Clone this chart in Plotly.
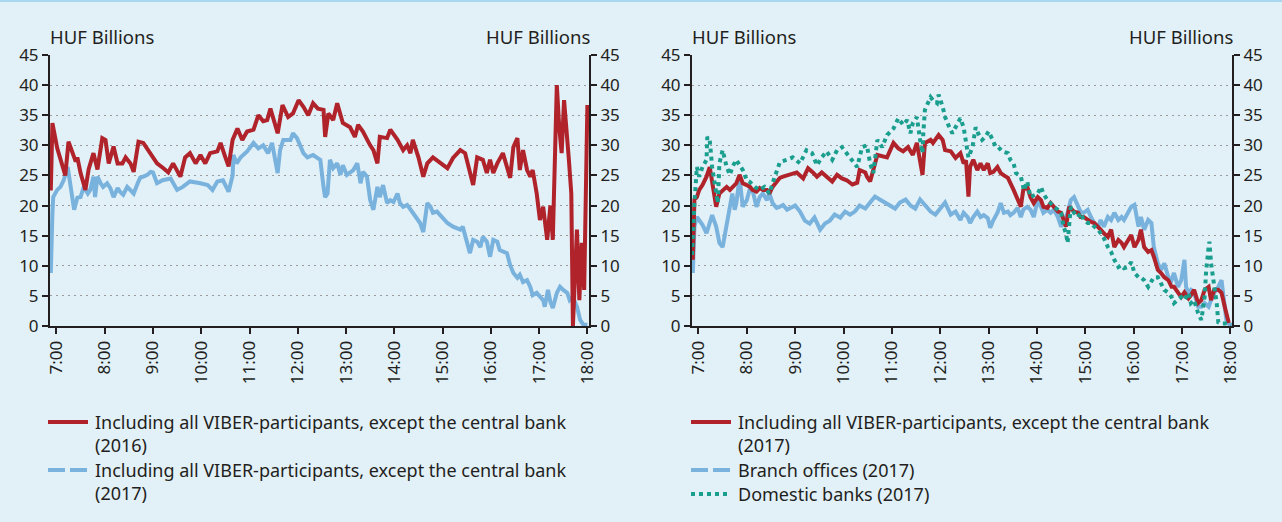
import plotly.graph_objects as go

# ---- time axis: minutes after 07:00 ----
TICK_MIN = [0, 60, 120, 180, 240, 300, 360, 420, 480, 540, 600, 660]
TICK_TXT = ["7:00", "8:00", "9:00", "10:00", "11:00", "12:00", "13:00",
            "14:00", "15:00", "16:00", "17:00", "18:00"]
Y_TICKS = [0, 5, 10, 15, 20, 25, 30, 35, 40, 45]

# ---- left panel: all VIBER participants except the central bank, 2016 ----
all16_t = [-7, -5, 1, 7, 11, 15, 20, 24, 26, 30, 36, 40, 46, 51, 57, 61, 65, 71, 76, 82,
           86, 92, 96, 102, 108, 117, 125, 133, 139, 145, 154, 160, 166, 173, 179, 185,
           191, 200, 204, 210, 214, 219, 225, 231, 237, 245, 251, 257, 262, 266, 270,
           275, 281, 288, 294, 301, 307, 313, 319, 325, 332, 334, 338, 344, 349, 356,
           365, 371, 375, 381, 390, 394, 399, 402, 411, 415, 424, 431, 436, 440, 443,
           450, 456, 461, 468, 477, 486, 493, 502, 508, 514, 518, 523, 530, 535, 539,
           543, 548, 555, 560, 564, 568, 573, 576, 580, 585, 589, 592, 597, 601, 605,
           610, 614, 617, 620, 622, 625, 628, 631, 635, 637, 640, 642, 647, 650, 653,
           656, 660]
all16_v = [22.5, 33.7, 29.5, 27, 25, 30.6, 28.7, 27.3, 28, 25.4, 22.6, 26, 28.7, 26, 31.2,
           30.9, 27, 29.8, 27, 27, 28, 27, 25.6, 30.6, 30.4, 28.7, 27, 26.2, 25.5, 27,
           24.8, 28, 28.7, 27, 28.4, 27, 28.7, 29, 30.4, 28, 26.5, 30.9, 32.8, 30.9, 32.3,
           32.6, 35, 34, 34.2, 36.1, 34.2, 32, 36.7, 34.7, 35.3, 37.5, 36.4, 35, 37, 36.1,
           35.9, 31.4, 35.3, 34.2, 37, 33.7, 33, 31.4, 33.4, 32.3, 30, 29.2, 27, 31.4,
           31.2, 32.6, 30.9, 29.2, 30, 28.7, 30.9, 28, 24.8, 27, 28, 27.2, 26.2, 27.9,
           29.2, 28.7, 25.4, 23.4, 28, 27.6, 25.4, 27.6, 25.4, 27, 28.7, 26.4, 24.6, 29.7,
           31.2, 25.9, 29.2, 25.9, 24.8, 25.9, 22, 17.6, 19.8, 14.3, 20, 14.3, 29, 40, 33,
           28.7, 37.5, 29.2, 27.6, 22, 0, 16, 4.3, 13.8, 6, 36.7]

# ---- left panel: all VIBER participants except the central bank, 2017 ----
all17a_t = [-7, -6, -5, -4, 1, 5, 9, 14, 17, 22, 26, 30, 34, 39, 42, 46, 48, 51, 55, 58,
            63, 67, 71, 76, 79, 83, 88, 92, 96, 101, 104, 108, 113, 117, 120, 125, 132,
            142, 150, 157, 166, 179, 188, 194, 200, 207, 214, 219, 220, 224, 229, 237,
            245, 251, 257, 263, 268, 275, 278, 282, 291, 294, 299, 307, 312, 319, 324,
            328, 332, 334, 337, 340, 344, 349, 353, 356, 361, 369, 374, 378, 381, 386,
            390, 394, 399, 402, 406, 411, 415, 419, 424, 427, 431, 436, 443, 452, 456,
            461, 465, 468, 473, 481, 486, 493, 502, 505, 510, 514, 518, 523, 527, 530,
            535, 539, 543, 548, 551, 555, 560, 564, 568, 573, 576, 580, 585, 589, 592,
            597, 601, 605, 607, 611, 614, 617, 622, 626, 630, 635, 638, 642, 647, 651,
            655, 660]
all17a_v = [8.8, 17.6, 18.8, 21.4, 22.6, 23.1, 24.2, 26.4, 23.7, 19.3, 21.3, 21.4, 23.1,
            22, 22.6, 24.8, 21.4, 24.8, 23.7, 23.1, 23.7, 22.9, 21.4, 22.9, 22.3, 21.8,
            23.1, 22.6, 22, 23.7, 24.6, 24.8, 25.1, 25.6, 25.5, 23.7, 24.2, 24.5, 22.6,
            23.1, 24, 23.7, 23.4, 22.6, 24, 24.2, 22.3, 25, 28.4, 27, 28, 29, 30.4, 29.5,
            30, 28.7, 30.4, 25.4, 29.2, 30.9, 30.9, 32, 31.2, 28.7, 28, 28.4, 28, 27.6,
            23.1, 21.4, 22, 27.6, 26.2, 27, 25.1, 26.7, 25.1, 25.9, 27, 23.7, 25.6, 24.8,
            20.9, 19.3, 23.1, 21.4, 23.4, 20.4, 20.9, 20.6, 22, 20.4, 19.8, 20.1, 18.8,
            17.1, 15.6, 20.4, 19.8, 18.8, 19, 17.9, 17.1, 16.5, 16, 16.5, 14.3, 12.1, 14.3,
            14, 13.1, 14.8, 14, 11.5, 14.3, 14, 12.6, 12.3, 12.1, 10.1, 8.8, 8, 8.5, 7.3,
            7.6, 6.5, 5.1, 5.5, 4.8, 4.3, 3.2, 6, 4, 3, 5.5, 6.5, 6, 5.5, 4.3, 4.8, 3.2,
            1, 0.2, 0.2]

# ---- right panel: all VIBER participants except the central bank, 2017 ----
all17b_t = [-7, -5, -2, 1, 5, 10, 14, 17, 22, 26, 30, 35, 39, 42, 47, 51, 55, 60, 64, 67,
            72, 76, 80, 85, 88, 92, 97, 101, 105, 113, 122, 130, 136, 142, 147, 153, 159,
            166, 172, 178, 184, 191, 197, 200, 207, 209, 213, 217, 222, 234, 242, 248,
            254, 260, 266, 271, 275, 278, 281, 288, 291, 298, 303, 306, 313, 319, 325,
            329, 332, 335, 337, 341, 346, 350, 354, 359, 362, 366, 371, 375, 379, 384,
            391, 396, 400, 403, 408, 412, 416, 421, 425, 428, 433, 437, 441, 446, 450,
            453, 456, 460, 466, 471, 474, 478, 483, 487, 491, 496, 499, 503, 508, 512,
            516, 521, 525, 528, 533, 537, 541, 546, 549, 553, 558, 562, 565, 570, 574,
            578, 583, 587, 590, 595, 599, 603, 608, 611, 615, 620, 624, 628, 633, 636,
            640, 645, 649, 653, 658]
all17b_v = [11, 21, 21.4, 22.6, 23.4, 24.8, 26.4, 23.7, 19.8, 22, 22.6, 23.1, 22.6, 23.1,
            23.7, 25.1, 23.7, 23.4, 23.1, 22.6, 22.3, 22.9, 22.6, 22.6, 22, 23.1, 23.9,
            24.6, 24.8, 25.1, 25.5, 24.5, 26.2, 25.5, 24.8, 25.5, 24.8, 24, 25.1, 24.5,
            24.2, 23.5, 23.8, 25.9, 25.5, 24.8, 24, 25.9, 28.4, 28, 30.4, 29.5, 29, 29.7,
            28.4, 30.4, 27.2, 25.1, 30.4, 30.9, 30.4, 31.7, 30.9, 29.2, 29, 27.9, 28.7,
            27, 27.5, 21.5, 26.4, 27.6, 25.9, 27, 25.9, 27, 25.4, 25.6, 26.4, 25.4, 25,
            24.6, 22.6, 20.9, 19.8, 22.6, 23.1, 21.4, 20.4, 21.4, 20.9, 19.8, 19.6, 20.4,
            19.8, 19, 18.8, 17.6, 16.5, 19.8, 19, 18.8, 18.1, 18.1, 17.6, 17.3, 17.1,
            16.5, 16, 15.4, 14.8, 16, 13.1, 14.3, 13.8, 13.1, 14.3, 15.1, 13.1, 14.3, 16,
            13.1, 12.3, 12.6, 11.5, 9.3, 8.8, 8.1, 7.6, 6.5, 6.5, 5.5, 4.8, 5.6, 4.6, 5.1,
            6, 3.8, 4.3, 6, 6.5, 4.3, 6, 6, 5.5, 3.2, 0.5]

# ---- right panel: branch offices, 2017 ----
branch_t = [-7, -5, -2, 1, 5, 10, 14, 17, 22, 26, 30, 35, 39, 42, 45, 47, 51, 55, 60, 64,
            67, 72, 76, 80, 85, 88, 92, 97, 101, 105, 110, 120, 126, 132, 138, 144, 151,
            157, 163, 169, 176, 182, 188, 194, 200, 207, 213, 219, 225, 232, 238, 244,
            250, 257, 263, 269, 275, 281, 288, 294, 300, 306, 313, 319, 325, 329, 334,
            337, 341, 346, 350, 354, 359, 362, 366, 371, 375, 379, 384, 387, 391, 396,
            400, 403, 408, 412, 416, 421, 425, 428, 433, 437, 441, 446, 450, 453, 458,
            462, 466, 471, 474, 478, 483, 487, 491, 496, 499, 503, 508, 512, 516, 521,
            525, 528, 533, 537, 541, 546, 549, 553, 558, 562, 565, 570, 574, 578, 583,
            587, 590, 595, 599, 603, 605, 608, 611, 615, 620, 624, 628, 633, 636, 640,
            645, 649, 653, 655, 659, 662]
branch_v = [8.8, 16.5, 18.1, 17.6, 16.8, 15.4, 17.3, 18.4, 16.5, 13.8, 13.1, 16.5, 19.8,
            22, 19.3, 20.4, 24.6, 19.8, 20.9, 22.9, 22.6, 19.8, 21.4, 22, 20.9, 22, 20.4,
            19.6, 19.8, 20.1, 19.3, 20, 19, 17.5, 17, 18, 16, 17, 17.5, 18.5, 18, 19,
            18.5, 19, 20, 19.5, 20.5, 21.5, 21, 20.5, 20, 19.5, 20.5, 21, 20, 19.5, 21,
            20, 19, 18.5, 19.5, 20.5, 18.5, 19, 17.6, 18.8, 18.1, 17.1, 18.1, 19, 18.1,
            18.4, 17.9, 16.3, 17.6, 18.8, 20.4, 18.8, 19, 18.4, 18.8, 19.6, 18.1, 19.3,
            19.8, 19.3, 18.1, 20.9, 19.8, 18.8, 19.3, 18.8, 19.3, 18.1, 16.5, 17.1, 18.8,
            20.9, 21.4, 19.8, 19, 18.8, 19.3, 18.1, 17.1, 16.5, 17.6, 16.5, 18.1, 17.6,
            18.8, 17.6, 18.1, 17.6, 18.8, 19.8, 20.1, 16.5, 18.1, 16, 17.6, 17.1, 13.1,
            10.4, 9.3, 10.4, 8.1, 7.6, 8.8, 6.5, 7.6, 11, 6.5, 5.5, 6, 5.5, 3.2, 3.2, 3.8,
            3.2, 4.3, 5.5, 6.5, 7.6, 3.2, 1, 0.2, 0.1]

# ---- right panel: domestic banks, 2017 ----
domestic_t = [-8, -7, -5, -2, 1, 5, 10, 11, 14, 17, 22, 24, 26, 30, 35, 39, 42, 47, 51,
              55, 60, 64, 70, 76, 82, 88, 92, 97, 101, 110, 117, 126, 134, 141, 147, 153,
              159, 166, 172, 178, 184, 191, 197, 203, 209, 213, 217, 222, 228, 234, 242,
              248, 254, 259, 263, 266, 271, 275, 278, 279, 281, 288, 291, 296, 298, 303,
              306, 310, 315, 319, 323, 325, 329, 331, 335, 340, 344, 347, 352, 356, 360,
              365, 369, 372, 377, 384, 387, 391, 394, 400, 404, 408, 412, 421, 425, 428,
              433, 437, 441, 446, 450, 453, 456, 458, 460, 462, 466, 471, 474, 478, 483,
              487, 491, 496, 499, 503, 508, 512, 516, 521, 525, 528, 533, 537, 541, 546,
              549, 553, 558, 562, 565, 570, 574, 578, 583, 587, 590, 595, 599, 603, 608,
              611, 615, 620, 624, 628, 630, 633, 634, 636, 640, 643, 645, 649, 655, 661]
domestic_v = [11.8, 16.5, 20.4, 26.4, 24.8, 26.4, 27.6, 31.4, 30.9, 26.4, 22, 20.4, 27,
              29.2, 26.4, 25.1, 26.4, 27.6, 26.7, 25.9, 24.2, 23.9, 23.1, 22.6, 23.1, 22,
              23.7, 25.4, 27.2, 27.6, 28, 27, 29.2, 28.7, 26.7, 28, 29, 27.6, 29.2, 29.7,
              28.7, 27.6, 26.4, 29.7, 30, 27, 25.4, 30.9, 29.7, 31.7, 32.8, 34.5, 33.4,
              34.2, 32, 33.7, 34.7, 30.9, 28.7, 32, 35.9, 38, 37.5, 37, 38.4, 36.4, 34.7,
              33.4, 32, 33, 34.2, 34.5, 33, 30.9, 28, 29.7, 33, 32, 30.9, 31.4, 32.3, 30.9,
              29.7, 29.7, 29, 28.7, 27.6, 27, 25.4, 24.8, 22.5, 24, 21.4, 22, 23.1, 22,
              20.9, 20.4, 19.8, 19.3, 18.8, 16.5, 15.4, 13.8, 18.1, 19.8, 18.8, 18.1,
              18.8, 17.6, 17.1, 17.1, 16.5, 16, 15.4, 14.6, 13.1, 12.3, 11, 9.8, 10.1, 9.6,
              9.8, 10.6, 8.8, 8.1, 8.1, 7.6, 6.5, 7.6, 8.1, 8.1, 7.1, 6, 5.5, 4.8, 3.8,
              4.3, 4.8, 4.3, 5.5, 3.8, 4.3, 2.1, 1, 4.8, 9.3, 13.1, 14, 10.4, 7.1, 3.8,
              0.6, 0.4, 0.4, 0.2]

# ---- legend text ----
INCL = "Including all VIBER-participants, except the central bank"
LEFT_KEYS = [INCL + "<br>(2016)", INCL + "<br>(2017)"]
RIGHT_KEYS = [INCL + "<br>(2017)", "Branch offices (2017)", "Domestic banks (2017)"]

RED = "#b0232a"
BLUE = "#78b2dd"
TEAL = "#1a9e8e"
INK = "#231f20"
BG = "#e2f0f8"
FONT = "Noto Sans"
W, H = 1282, 522
LEG_SIZE = 18

fig = go.Figure()

# series drawn as continuous lines
fig.add_trace(go.Scatter(x=all17a_t, y=all17a_v, mode="lines", xaxis="x", yaxis="y",
                         line=dict(color=BLUE, width=4)))
fig.add_trace(go.Scatter(x=all16_t, y=all16_v, mode="lines", xaxis="x", yaxis="y",
                         line=dict(color=RED, width=4)))
fig.add_trace(go.Scatter(x=branch_t, y=branch_v, mode="lines", xaxis="x2", yaxis="y3",
                         line=dict(color=BLUE, width=4)))
fig.add_trace(go.Scatter(x=all17b_t, y=all17b_v, mode="lines", xaxis="x2", yaxis="y3",
                         line=dict(color=RED, width=4)))
fig.add_trace(go.Scatter(x=domestic_t, y=domestic_v, mode="lines", xaxis="x2", yaxis="y3",
                         line=dict(color=TEAL, width=4, dash="4px,4px")))
# empty traces so the mirrored right-hand axes get drawn
fig.add_trace(go.Scatter(x=[None], y=[None], xaxis="x", yaxis="y2", hoverinfo="skip"))
fig.add_trace(go.Scatter(x=[None], y=[None], xaxis="x2", yaxis="y4", hoverinfo="skip"))

L_DOM = [50 / W, 589 / W]
R_DOM = [692 / W, 1232 / W]
Y_DOM = [1 - 326 / H, 1 - 55 / H]

xcommon = dict(range=[-8, 662], tickmode="array", tickvals=TICK_MIN, ticktext=TICK_TXT,
               tickangle=-90, ticks="outside", ticklen=6, tickwidth=2, tickcolor=INK,
               showline=True, linecolor=INK, linewidth=2, showgrid=False, zeroline=False,
               tickfont=dict(family=FONT, size=17, color=INK))
ycommon = dict(range=[0, 45], tickmode="array", tickvals=Y_TICKS, ticks="outside",
               ticklen=6, tickwidth=2, tickcolor=INK, showline=True, linecolor=INK,
               linewidth=2, zeroline=False, domain=Y_DOM,
               tickfont=dict(family=FONT, size=17, color=INK))
grid = dict(showgrid=True, gridcolor="#9a9a9a", gridwidth=1.3, griddash="2px,4px")

shapes = [dict(type="line", xref="paper", yref="paper", x0=0, x1=1, y0=0.998, y1=0.998,
               line=dict(color="#a9d7ef", width=2))]
annotations = []

# unit labels above each vertical axis
for xpos, anchor in [(48, "left"), (592, "right"), (690, "left"), (1235, "right")]:
    annotations.append(dict(text="HUF Billions", xref="paper", yref="paper",
                            x=xpos / W, y=1 - 36 / H, xanchor=anchor, yanchor="middle",
                            showarrow=False, font=dict(family=FONT, size=18.5, color=INK)))

# legend blocks: key sample beside the first line of each label
def legend_block(x_key, x_text, labels, styles, first_line_y):
    line_h = 1.3 * LEG_SIZE
    for label, (color, dash), y0 in zip(labels, styles, first_line_y):
        n_lines = label.count("<br>") + 1
        shapes.append(dict(type="line", xref="paper", yref="paper",
                           x0=x_key / W, x1=(x_key + 40) / W,
                           y0=1 - y0 / H, y1=1 - y0 / H,
                           line=dict(color=color, width=4, dash=dash)))
        centre = y0 + (n_lines - 1) * line_h / 2
        annotations.append(dict(text=label, xref="paper", yref="paper", align="left",
                                x=x_text / W, y=1 - centre / H, xanchor="left",
                                yanchor="middle", showarrow=False, borderpad=0,
                                font=dict(family=FONT, size=LEG_SIZE, color=INK)))

legend_block(48, 94, LEFT_KEYS, [(RED, "solid"), (BLUE, "17px,5px")], [422, 470])
legend_block(691, 737, RIGHT_KEYS,
             [(RED, "solid"), (BLUE, "17px,5px"), (TEAL, "4px,4px")], [422, 470, 494])

fig.update_layout(
    width=W, height=H,
    margin=dict(l=0, r=0, t=0, b=0, autoexpand=False),
    paper_bgcolor=BG, plot_bgcolor=BG,
    showlegend=False,
    font=dict(family=FONT, size=17, color=INK),
    xaxis=dict(domain=L_DOM, anchor="y", **xcommon),
    xaxis2=dict(domain=R_DOM, anchor="y3", **xcommon),
    yaxis=dict(anchor="x", side="left", **ycommon, **grid),
    yaxis2=dict(anchor="x", side="right", overlaying="y", showgrid=False, **ycommon),
    yaxis3=dict(anchor="x2", side="left", **ycommon, **grid),
    yaxis4=dict(anchor="x2", side="right", overlaying="y3", showgrid=False, **ycommon),
    shapes=shapes,
    annotations=annotations,
)

fig.write_html("out.html")
